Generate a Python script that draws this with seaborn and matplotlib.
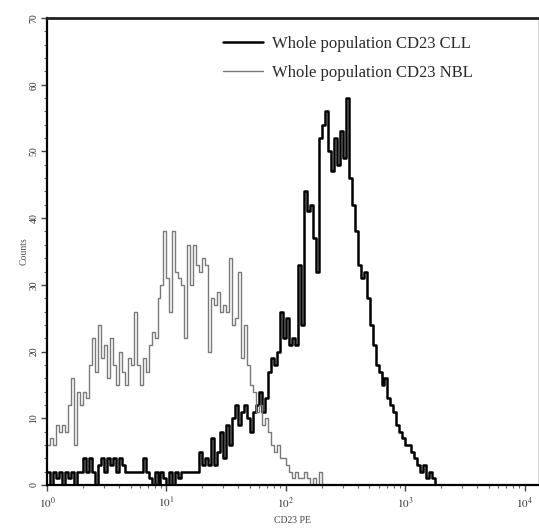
import numpy as np
import pandas as pd
import matplotlib
matplotlib.use("Agg")
import matplotlib.pyplot as plt
import seaborn as sns
from matplotlib.ticker import MultipleLocator, LogLocator, NullFormatter, FixedLocator

# channel resolution: 40 channels per decade, starting at 10^0
channels_per_decade = 40

nbl_counts = [6, 7, 6, 9, 8, 9, 8, 12, 16, 6,
              14, 12, 14, 13, 18, 22, 17, 24, 19, 21,
              16, 22, 18, 15, 20, 17, 15, 19, 18, 26,
              18, 15, 19, 17, 21, 23, 22, 28, 30, 38,
              31, 26, 38, 32, 31, 30, 22, 36, 30, 36,
              33, 32, 34, 33, 20, 28, 27, 29, 26, 27,
              26, 34, 24, 25, 32, 19, 24, 18, 15, 14,
              11, 12, 9, 10, 8, 6, 5, 6, 4, 4,
              3, 2, 1, 2, 1, 1, 2, 1, 0, 1,
              0, 2, 0]

cll_counts = [2, 0, 2, 1, 2, 0, 2, 1, 2, 0,
              2, 2, 4, 2, 4, 2, 0, 3, 4, 2,
              4, 3, 4, 2, 4, 3, 2, 2, 2, 2,
              2, 2, 4, 2, 1, 0, 2, 0, 2, 1,
              0, 2, 0, 2, 1, 2, 2, 2, 2, 2,
              2, 5, 3, 4, 3, 7, 3, 5, 8, 4,
              9, 6, 10, 12, 9, 11, 12, 10, 8, 11,
              12, 14, 11, 13, 17, 19, 18, 20, 26, 22,
              25, 21, 22, 21, 33, 24, 44, 41, 42, 37,
              32, 52, 54, 56, 50, 47, 52, 48, 53, 49,
              58, 46, 42, 38, 33, 31, 32, 28, 24, 21,
              18, 17, 15, 16, 13, 12, 11, 9, 8, 7,
              6, 6, 5, 4, 3, 2, 3, 1, 2, 1,
              0, 0]

labels = ["Whole population CD23 CLL", "Whole population CD23 NBL"]
y_ticks = [0, 10, 20, 30, 40, 50, 60, 70]
x_decades = [0, 1, 2, 3, 4]
x_label = "CD23 PE"
y_label = "Counts"
x_max_decade = 4.11

def to_frame(counts, name):
    ch = np.arange(len(counts))
    x = 10 ** (ch / channels_per_decade)
    return pd.DataFrame({"x": x, "count": counts, "series": name})

df_cll = to_frame(cll_counts, labels[0])
# extend CLL baseline to the right edge of the axis
df_cll = pd.concat([df_cll, pd.DataFrame({"x": [10 ** x_max_decade], "count": [0], "series": labels[0]})])
df_nbl = to_frame(nbl_counts, labels[1])

sns.set_style("ticks")
plt.rcParams["font.family"] = ["Liberation Serif", "DejaVu Serif"]
plt.rcParams["mathtext.fontset"] = "stix"

fig = plt.figure(figsize=(5.39, 5.30), dpi=100)
ax = fig.add_axes([47 / 539, 45 / 530, (538 - 47) / 539, (512 - 45) / 530])

sns.lineplot(data=df_cll, x="x", y="count", ax=ax, color="black", linewidth=1.8,
             drawstyle="steps-post", estimator=None, label=labels[0])
sns.lineplot(data=df_nbl, x="x", y="count", ax=ax, color="#7a7a7a", linewidth=1.0,
             drawstyle="steps-post", estimator=None, label=labels[1])

ax.set_xscale("log")
ax.set_xlim(1, 10 ** x_max_decade)
ax.set_ylim(0, 70)

ax.xaxis.set_major_locator(FixedLocator([10 ** d for d in x_decades]))
ax.set_xticklabels([f"$10^{{{d}}}$" for d in x_decades], fontsize=8, color="#333333")
ax.xaxis.set_minor_locator(LogLocator(base=10, subs=np.arange(2, 10)))
ax.xaxis.set_minor_formatter(NullFormatter())

ax.yaxis.set_major_locator(FixedLocator(y_ticks))
ax.set_yticklabels([str(t) for t in y_ticks], rotation=90, fontsize=7, va="center", color="#333333")
ax.yaxis.set_minor_locator(MultipleLocator(2))

ax.tick_params(axis="both", which="major", direction="out", length=4, width=1.0, color="#444444")
ax.tick_params(axis="both", which="minor", direction="out", length=2.5, width=0.8, color="#666666")
ax.tick_params(axis="y", pad=2)

ax.set_xlabel(x_label, fontsize=7, color="#444444", labelpad=4)
ax.set_ylabel(y_label, fontsize=7, color="#555555", labelpad=1)

for side in ["left", "bottom"]:
    ax.spines[side].set_linewidth(1.6)
    ax.spines[side].set_color("black")
ax.spines["top"].set_linewidth(2.0)
ax.spines["top"].set_color("#222222")
ax.spines["right"].set_linewidth(0.6)
ax.spines["right"].set_color("#cccccc")

leg = ax.legend(loc="upper left", bbox_to_anchor=(0.344, 0.976), borderaxespad=0,
                frameon=False, fontsize=12, handlelength=2.4, handletextpad=0.55,
                labelspacing=0.8)
for t in leg.get_texts():
    t.set_color("#2a2a2a")

fig.savefig("out.png", dpi=100)
